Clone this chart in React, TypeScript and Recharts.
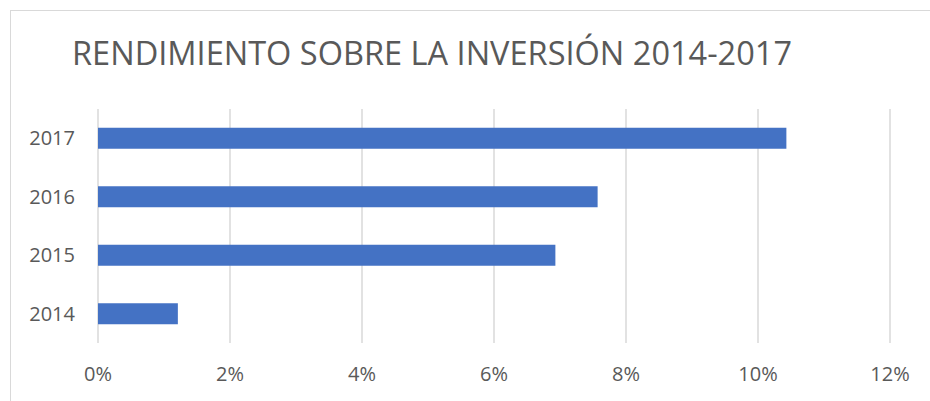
import { Bar, BarChart, CartesianGrid, XAxis, YAxis } from "recharts";

const years = ["2017", "2016", "2015", "2014"];
const returns = [0.1043, 0.0757, 0.0693, 0.0121];
const xTicks = [0, 0.02, 0.04, 0.06, 0.08, 0.1, 0.12];

const title = "RENDIMIENTO SOBRE LA INVERSIÓN 2014-2017";
const font = "'Open Sans', 'DejaVu Sans', sans-serif";

export default function App() {
  const data = years.map((year, i) => ({ year, value: returns[i] }));

  return (
    <div style={{ position: "absolute", left: 0, top: 0, width: 930, height: 401, overflow: "hidden", background: "#fff" }}>
      <div
        style={{
          position: "absolute",
          left: 10,
          top: 10,
          width: 1000,
          height: 500,
          borderTop: "1px solid #d9d9d9",
          borderLeft: "1px solid #d9d9d9",
        }}
      />
      <svg width={930} height={100} style={{ position: "absolute", left: 0, top: 0 }}>
        <text
          x={72}
          y={65}
          fontFamily={font}
          fontSize={33}
          fill="#595959"
          textLength={720}
          lengthAdjust="spacingAndGlyphs"
        >
          {title}
        </text>
      </svg>
      <div style={{ position: "absolute", left: 0, top: 0 }}>
        <BarChart
          width={930}
          height={401}
          data={data}
          layout="vertical"
          margin={{ top: 109, right: 40, left: 38, bottom: 28 }}
          barCategoryGap="32%"
        >
          <CartesianGrid horizontal={false} stroke="#d9d9d9" strokeWidth={1.5} />
          <XAxis
            type="number"
            domain={[0, 0.12]}
            ticks={xTicks}
            tickFormatter={(v: number) => `${Math.round(v * 100)}%`}
            axisLine={false}
            tickLine={false}
            tickSize={0}
            tickMargin={24}
            height={30}
            tick={{ fontSize: 20, fill: "#595959", fontFamily: font }}
          />
          <YAxis
            type="category"
            dataKey="year"
            axisLine={false}
            tickLine={false}
            tickSize={0}
            tickMargin={23}
            width={60}
            tick={{ fontSize: 20, fill: "#595959", fontFamily: font }}
          />
          <Bar dataKey="value" fill="#4472c4" isAnimationActive={false} />
        </BarChart>
      </div>
    </div>
  );
}
